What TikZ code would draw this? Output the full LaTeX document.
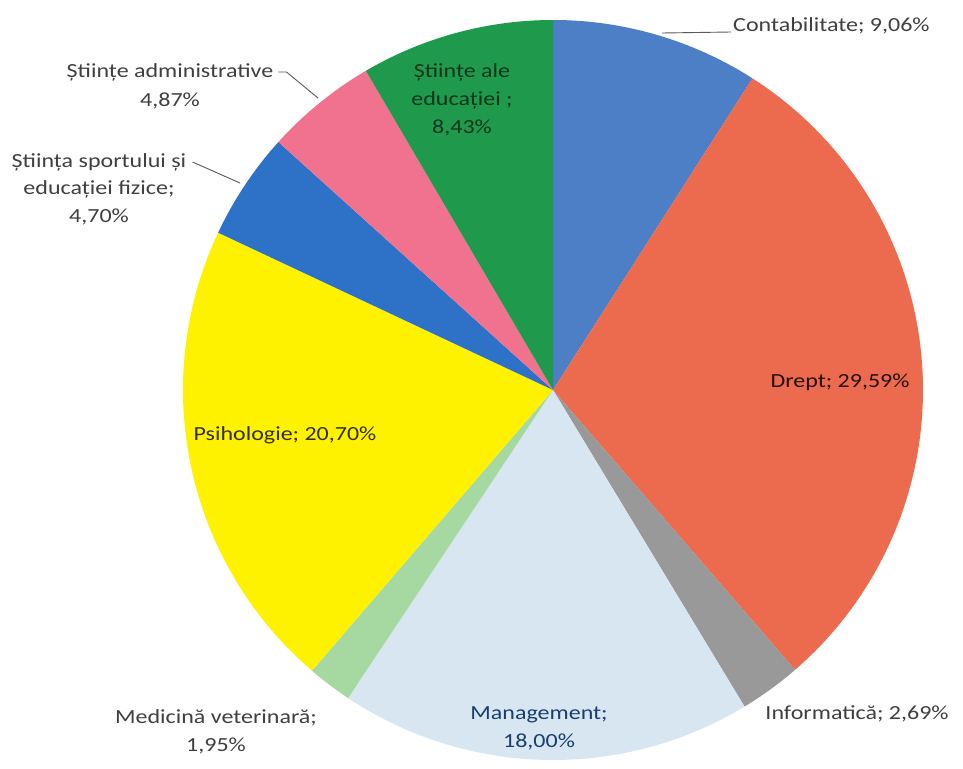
\documentclass[tikz,border=0pt]{standalone}
\usepackage{fontspec}
\setmainfont{Carlito}[FakeStretch=1.2]
\begin{document}
\begin{tikzpicture}[x=1pt,y=-1pt,
  lbl/.style={font=\fontsize{20}{28}\selectfont, text=labgray, inner sep=2pt, align=center},
  leader/.style={draw=leadgray, line width=0.9pt}]
\definecolor{labgray}{HTML}{404040}
\definecolor{leadgray}{HTML}{5A5A5A}
\definecolor{cContab}{HTML}{4C7FC6}
\definecolor{cDrept}{HTML}{EC6A4E}
\definecolor{cInfo}{HTML}{999999}
\definecolor{cMgmt}{HTML}{D8E6F2}
\definecolor{cMed}{HTML}{A6D9A2}
\definecolor{cPsih}{HTML}{FFF200}
\definecolor{cSport}{HTML}{2E72C8}
\definecolor{cAdm}{HTML}{F0728E}
\definecolor{cEdu}{HTML}{1F9A4C}
\useasboundingbox (0,0) rectangle (963,768);
\fill[white] (0,0) rectangle (963,768);
\coordinate (C) at (553,390);
% slices: parameter t = - visual angle
\fill[cContab] (C) -- ++(-90:370) arc[start angle=-90, end angle=-57.384, radius=370] -- cycle;
\fill[cDrept] (C) -- ++(-57.384:370) arc[start angle=-57.384, end angle=49.14, radius=370] -- cycle;
\fill[cInfo] (C) -- ++(49.14:370) arc[start angle=49.14, end angle=58.824, radius=370] -- cycle;
\fill[cMgmt] (C) -- ++(58.824:370) arc[start angle=58.824, end angle=123.624, radius=370] -- cycle;
\fill[cMed] (C) -- ++(123.624:370) arc[start angle=123.624, end angle=130.644, radius=370] -- cycle;
\fill[cPsih] (C) -- ++(130.644:370) arc[start angle=130.644, end angle=205.164, radius=370] -- cycle;
\fill[cSport] (C) -- ++(205.164:370) arc[start angle=205.164, end angle=222.084, radius=370] -- cycle;
\fill[cAdm] (C) -- ++(222.084:370) arc[start angle=222.084, end angle=239.616, radius=370] -- cycle;
\fill[cEdu] (C) -- ++(239.616:370) arc[start angle=239.616, end angle=270, radius=370] -- cycle;
% labels
\node[lbl, anchor=base west] (contab) at (731,32) {Contabilitate; 9,06\%};
\coordinate (pContab) at (662,33);
\draw[leader] (pContab) -- (contab.base west);
\node[lbl, text=black!75!cDrept!60!black] (drept) at (840,382) {Drept; 29,59\%};
\node[lbl] (info) at (857,714) {Informatică; 2,69\%};
\node[lbl, text=cSport!55!black] (mgmt) at (539,728) {Management;\\18,00\%};
\node[lbl] (med) at (216,732) {Medicină veterinară;\\1,95\%};
\node[lbl, text=black!80!cPsih] (psih) at (285,435) {Psihologie; 20,70\%};
\node[lbl] (sport1) at (99,162) {Știința sportului și};
\node[lbl] (sport2) at (99,203) {educației fizice;\\4,70\%};
\coordinate (pSport) at (240,183);
\draw[leader] (sport1.east) ++(4,0) coordinate (sportA) (sportA) -- (pSport);
\node[lbl] (adm1) at (170,72) {Științe administrative};
\node[lbl] (adm2) at (170,101) {4,87\%};
\coordinate (pAdm) at (318,98);
\draw[leader] (adm1.east) ++(3,0) coordinate (admA) (admA) -- ++(8,0) -- (pAdm);
\node[lbl, text=cEdu!35!black] (edu) at (462,100) {Științe ale\\educației ;\\8,43\%};
\end{tikzpicture}
\end{document}
